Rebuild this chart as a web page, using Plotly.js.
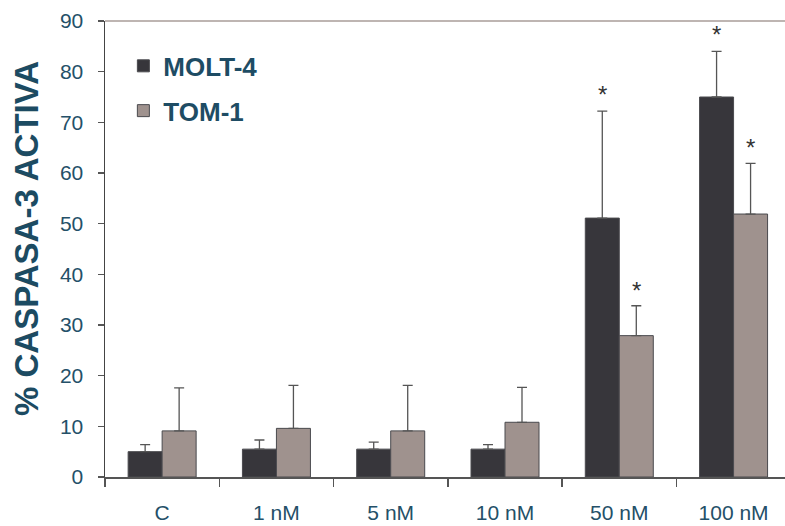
<!DOCTYPE html>
<html>
<head>
<meta charset="utf-8">
<script src="https://cdn.plot.ly/plotly-3.0.1.min.js"></script>
<style>html,body{margin:0;padding:0;background:#fff;}#chart{width:785px;height:526px;}</style>
</head>
<body>
<div id="chart"></div>
<script>
const categories = ["C", "1 nM", "5 nM", "10 nM", "50 nM", "100 nM"];
const molt4Values = [5.0, 5.5, 5.5, 5.5, 51.1, 75.0];
const molt4Errors = [1.4, 1.8, 1.4, 0.9, 21.1, 9.0];
const tom1Values = [9.1, 9.6, 9.1, 10.8, 27.9, 51.9];
const tom1Errors = [8.5, 8.5, 9.0, 6.9, 5.9, 10.0];
const molt4Significant = [false, false, false, false, true, true];
const tom1Significant = [false, false, false, false, true, true];
const yTicks = [0, 10, 20, 30, 40, 50, 60, 70, 80, 90];
const yTitle = "% CASPASA-3 ACTIVA";

const teal = "#245068";
const fontFam = "'Liberation Sans', Arial, Helvetica, sans-serif";
const zeros = categories.map(() => 0);

const traces = [
  {
    type: "bar", name: "MOLT-4", x: categories, y: molt4Values, legendgroup: "a",
    marker: {color: "#37363b", line: {color: "#4a4a4e", width: 1}},
    error_y: {type: "data", symmetric: false, array: molt4Errors, arrayminus: zeros,
              color: "#555555", thickness: 1.3, width: 5}
  },
  {
    type: "bar", name: "TOM-1", x: categories, y: tom1Values, legendgroup: "b",
    marker: {color: "#9f928e", line: {color: "#4a4a4e", width: 1}},
    error_y: {type: "data", symmetric: false, array: tom1Errors, arrayminus: zeros,
              color: "#555555", thickness: 1.3, width: 5}
  }
];

const annotations = [];
categories.forEach((c, i) => {
  if (molt4Significant[i]) annotations.push({x: c, y: molt4Values[i] + molt4Errors[i], xshift: -17, yshift: 1,
    text: "*", showarrow: false, yanchor: "bottom", font: {size: 24, color: "#333", family: fontFam}});
  if (tom1Significant[i]) annotations.push({x: c, y: tom1Values[i] + tom1Errors[i], xshift: 17, yshift: 0,
    text: "*", showarrow: false, yanchor: "bottom", font: {size: 24, color: "#333", family: fontFam}});
});
annotations.push({xref: "paper", yref: "paper", x: 0, y: 0.522, xshift: -78, xanchor: "center", yanchor: "middle",
  text: yTitle, textangle: -90, showarrow: false,
  font: {size: 33, color: "#1c4b62", weight: "bold", family: fontFam}});

const layout = {
  width: 785, height: 526,
  margin: {l: 105, r: 0, t: 21, b: 49, pad: 0},
  paper_bgcolor: "#ffffff", plot_bgcolor: "#ffffff",
  font: {family: fontFam, color: teal},
  barmode: "group", bargap: 0.405, bargroupgap: 0,
  showlegend: true,
  legend: {x: 0.027, y: 0.953, xanchor: "left", yanchor: "top", bgcolor: "rgba(0,0,0,0)",
           font: {size: 26, color: "#1e4c64", weight: "bold", family: fontFam},
           tracegroupgap: 8, itemwidth: 30},
  xaxis: {
    type: "category", range: [-0.5, 5.45], showgrid: false, zeroline: false,
    showline: true, linecolor: "#555555", linewidth: 1.5,
    ticks: "outside", tickson: "boundaries", ticklen: 8, tickcolor: "#555555", tickwidth: 1.3,
    tickfont: {size: 21, color: teal, family: fontFam}, ticklabelstandoff: 16
  },
  yaxis: {
    range: [0, 90], tickvals: yTicks, showgrid: false, zeroline: false,
    showline: true, linecolor: "#444444", linewidth: 1.5,
    ticks: "outside", ticklen: 6, tickcolor: "#555555", tickwidth: 1.3,
    tickfont: {size: 21, color: teal, family: fontFam}, ticklabelstandoff: 10
  },
  shapes: [{type: "line", xref: "paper", yref: "paper", x0: 0, x1: 1, y0: 1, y1: 1,
            line: {color: "#a89d98", width: 1.5}}],
  annotations: annotations
};

Plotly.newPlot("chart", traces, layout, {displayModeBar: false, staticPlot: true});
</script>
</body>
</html>
